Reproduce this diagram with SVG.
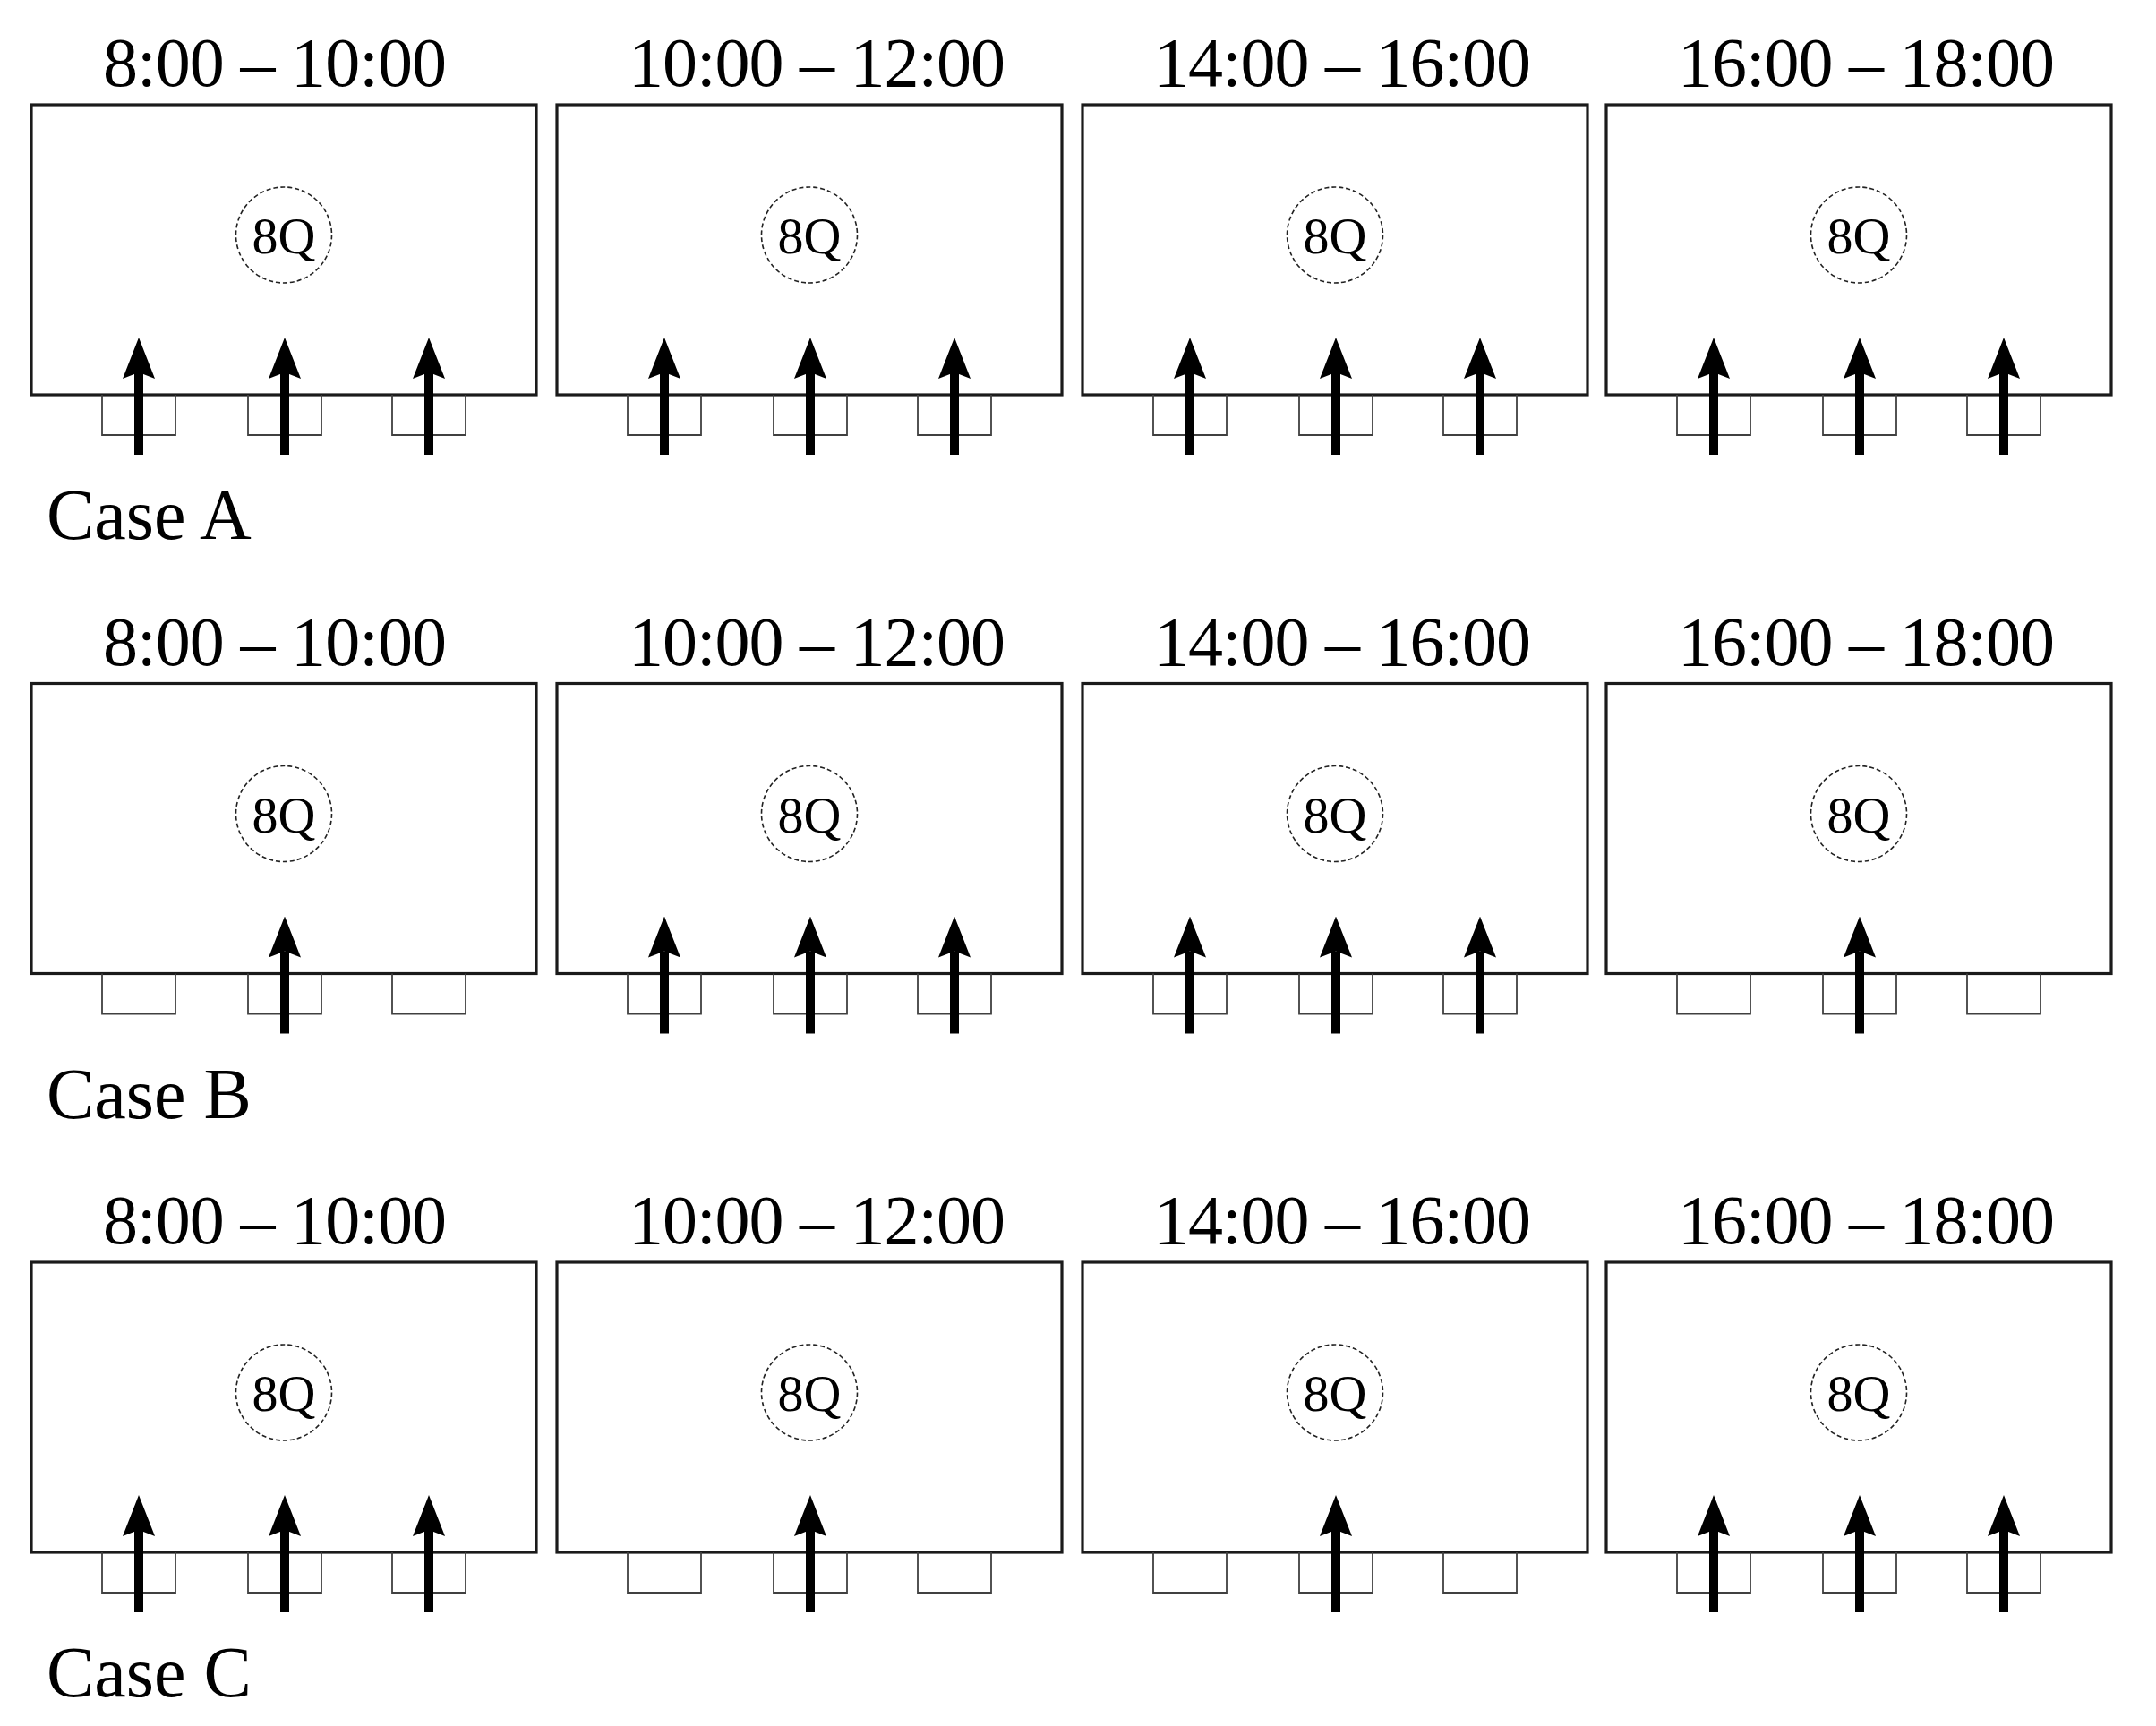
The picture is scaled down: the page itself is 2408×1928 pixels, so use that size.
<svg xmlns="http://www.w3.org/2000/svg" width="2408" height="1928" viewBox="0 0 2408 1928">
<style>
.bg{fill:#fff}
.room{fill:#fff;stroke:#1a1a1a;stroke-width:3.2}
.door{fill:none;stroke:#404040;stroke-width:1.8}
.q{fill:none;stroke:#222;stroke-width:1.6;stroke-dasharray:5 3}
.ql{font-family:"Liberation Serif",serif;font-size:58px;text-anchor:middle;fill:#000}
.t{font-family:"Liberation Serif",serif;font-size:78px;fill:#000}
.case{font-family:"Liberation Serif",serif;font-size:80px;fill:#000}
.arrow{stroke:#000;stroke-width:10;fill:none;marker-end:url(#ah)}
</style>
<defs>
<marker id="ah" markerUnits="userSpaceOnUse" viewBox="0 0 46 36" markerWidth="46" markerHeight="36" refX="7" refY="18" orient="auto">
<path d="M0,0 L46,18 L0,36 L7,18 Z" fill="#000"/>
</marker>
</defs>
<rect class="bg" x="0" y="0" width="2408" height="1928"/>

<!-- Row A -->
<g id="A1">
<text class="t" x="115" y="96" textLength="384">8:00 – 10:00</text>
<rect class="room" x="35" y="117" width="564" height="324"/>
<circle class="q" cx="317" cy="262.5" r="53.5"/><text class="ql" x="317" y="283">8Q</text>
<path class="door" d="M114,441 V486 H196 V441"/><path class="door" d="M277,441 V486 H359 V441"/><path class="door" d="M438,441 V486 H520 V441"/>
</g>
<g id="A2">
<text class="t" x="702" y="96" textLength="421">10:00 – 12:00</text>
<rect class="room" x="622" y="117" width="564" height="324"/>
<circle class="q" cx="904" cy="262.5" r="53.5"/><text class="ql" x="904" y="283">8Q</text>
<path class="door" d="M701,441 V486 H783 V441"/><path class="door" d="M864,441 V486 H946 V441"/><path class="door" d="M1025,441 V486 H1107 V441"/>
</g>
<g id="A3">
<text class="t" x="1289" y="96" textLength="421">14:00 – 16:00</text>
<rect class="room" x="1209" y="117" width="564" height="324"/>
<circle class="q" cx="1491" cy="262.5" r="53.5"/><text class="ql" x="1491" y="283">8Q</text>
<path class="door" d="M1288,441 V486 H1370 V441"/><path class="door" d="M1451,441 V486 H1533 V441"/><path class="door" d="M1612,441 V486 H1694 V441"/>
</g>
<g id="A4">
<text class="t" x="1874" y="96" textLength="421">16:00 – 18:00</text>
<rect class="room" x="1794" y="117" width="564" height="324"/>
<circle class="q" cx="2076" cy="262.5" r="53.5"/><text class="ql" x="2076" y="283">8Q</text>
<path class="door" d="M1873,441 V486 H1955 V441"/><path class="door" d="M2036,441 V486 H2118 V441"/><path class="door" d="M2197,441 V486 H2279 V441"/>
</g>
<text id="caseA" class="case" x="52" y="602">Case A</text>

<!-- Row B -->
<g id="B1">
<text class="t" x="115" y="742.5" textLength="384">8:00 – 10:00</text>
<rect class="room" x="35" y="763.5" width="564" height="324"/>
<circle class="q" cx="317" cy="909" r="53.5"/><text class="ql" x="317" y="929.5">8Q</text>
<path class="door" d="M114,1087.5 V1132.5 H196 V1087.5"/><path class="door" d="M277,1087.5 V1132.5 H359 V1087.5"/><path class="door" d="M438,1087.5 V1132.5 H520 V1087.5"/>
</g>
<g id="B2">
<text class="t" x="702" y="742.5" textLength="421">10:00 – 12:00</text>
<rect class="room" x="622" y="763.5" width="564" height="324"/>
<circle class="q" cx="904" cy="909" r="53.5"/><text class="ql" x="904" y="929.5">8Q</text>
<path class="door" d="M701,1087.5 V1132.5 H783 V1087.5"/><path class="door" d="M864,1087.5 V1132.5 H946 V1087.5"/><path class="door" d="M1025,1087.5 V1132.5 H1107 V1087.5"/>
</g>
<g id="B3">
<text class="t" x="1289" y="742.5" textLength="421">14:00 – 16:00</text>
<rect class="room" x="1209" y="763.5" width="564" height="324"/>
<circle class="q" cx="1491" cy="909" r="53.5"/><text class="ql" x="1491" y="929.5">8Q</text>
<path class="door" d="M1288,1087.5 V1132.5 H1370 V1087.5"/><path class="door" d="M1451,1087.5 V1132.5 H1533 V1087.5"/><path class="door" d="M1612,1087.5 V1132.5 H1694 V1087.5"/>
</g>
<g id="B4">
<text class="t" x="1874" y="742.5" textLength="421">16:00 – 18:00</text>
<rect class="room" x="1794" y="763.5" width="564" height="324"/>
<circle class="q" cx="2076" cy="909" r="53.5"/><text class="ql" x="2076" y="929.5">8Q</text>
<path class="door" d="M1873,1087.5 V1132.5 H1955 V1087.5"/><path class="door" d="M2036,1087.5 V1132.5 H2118 V1087.5"/><path class="door" d="M2197,1087.5 V1132.5 H2279 V1087.5"/>
</g>
<text id="caseB" class="case" x="52" y="1248.5">Case B</text>

<!-- Row C -->
<g id="C1">
<text class="t" x="115" y="1389" textLength="384">8:00 – 10:00</text>
<rect class="room" x="35" y="1410" width="564" height="324"/>
<circle class="q" cx="317" cy="1555.5" r="53.5"/><text class="ql" x="317" y="1576">8Q</text>
<path class="door" d="M114,1734 V1779 H196 V1734"/><path class="door" d="M277,1734 V1779 H359 V1734"/><path class="door" d="M438,1734 V1779 H520 V1734"/>
</g>
<g id="C2">
<text class="t" x="702" y="1389" textLength="421">10:00 – 12:00</text>
<rect class="room" x="622" y="1410" width="564" height="324"/>
<circle class="q" cx="904" cy="1555.5" r="53.5"/><text class="ql" x="904" y="1576">8Q</text>
<path class="door" d="M701,1734 V1779 H783 V1734"/><path class="door" d="M864,1734 V1779 H946 V1734"/><path class="door" d="M1025,1734 V1779 H1107 V1734"/>
</g>
<g id="C3">
<text class="t" x="1289" y="1389" textLength="421">14:00 – 16:00</text>
<rect class="room" x="1209" y="1410" width="564" height="324"/>
<circle class="q" cx="1491" cy="1555.5" r="53.5"/><text class="ql" x="1491" y="1576">8Q</text>
<path class="door" d="M1288,1734 V1779 H1370 V1734"/><path class="door" d="M1451,1734 V1779 H1533 V1734"/><path class="door" d="M1612,1734 V1779 H1694 V1734"/>
</g>
<g id="C4">
<text class="t" x="1874" y="1389" textLength="421">16:00 – 18:00</text>
<rect class="room" x="1794" y="1410" width="564" height="324"/>
<circle class="q" cx="2076" cy="1555.5" r="53.5"/><text class="ql" x="2076" y="1576">8Q</text>
<path class="door" d="M1873,1734 V1779 H1955 V1734"/><path class="door" d="M2036,1734 V1779 H2118 V1734"/><path class="door" d="M2197,1734 V1779 H2279 V1734"/>
</g>
<text id="caseC" class="case" x="52" y="1895">Case C</text>

<g id="connectors">
<!-- Row A: all doors -->
<line class="arrow" x1="155" y1="508" x2="155" y2="416"/>
<line class="arrow" x1="318" y1="508" x2="318" y2="416"/>
<line class="arrow" x1="479" y1="508" x2="479" y2="416"/>
<line class="arrow" x1="742" y1="508" x2="742" y2="416"/>
<line class="arrow" x1="905" y1="508" x2="905" y2="416"/>
<line class="arrow" x1="1066" y1="508" x2="1066" y2="416"/>
<line class="arrow" x1="1329" y1="508" x2="1329" y2="416"/>
<line class="arrow" x1="1492" y1="508" x2="1492" y2="416"/>
<line class="arrow" x1="1653" y1="508" x2="1653" y2="416"/>
<line class="arrow" x1="1914" y1="508" x2="1914" y2="416"/>
<line class="arrow" x1="2077" y1="508" x2="2077" y2="416"/>
<line class="arrow" x1="2238" y1="508" x2="2238" y2="416"/>
<!-- Row B -->
<line class="arrow" x1="318" y1="1154.5" x2="318" y2="1062.5"/>
<line class="arrow" x1="742" y1="1154.5" x2="742" y2="1062.5"/>
<line class="arrow" x1="905" y1="1154.5" x2="905" y2="1062.5"/>
<line class="arrow" x1="1066" y1="1154.5" x2="1066" y2="1062.5"/>
<line class="arrow" x1="1329" y1="1154.5" x2="1329" y2="1062.5"/>
<line class="arrow" x1="1492" y1="1154.5" x2="1492" y2="1062.5"/>
<line class="arrow" x1="1653" y1="1154.5" x2="1653" y2="1062.5"/>
<line class="arrow" x1="2077" y1="1154.5" x2="2077" y2="1062.5"/>
<!-- Row C -->
<line class="arrow" x1="155" y1="1801" x2="155" y2="1709"/>
<line class="arrow" x1="318" y1="1801" x2="318" y2="1709"/>
<line class="arrow" x1="479" y1="1801" x2="479" y2="1709"/>
<line class="arrow" x1="905" y1="1801" x2="905" y2="1709"/>
<line class="arrow" x1="1492" y1="1801" x2="1492" y2="1709"/>
<line class="arrow" x1="1914" y1="1801" x2="1914" y2="1709"/>
<line class="arrow" x1="2077" y1="1801" x2="2077" y2="1709"/>
<line class="arrow" x1="2238" y1="1801" x2="2238" y2="1709"/>
</g>
</svg>
